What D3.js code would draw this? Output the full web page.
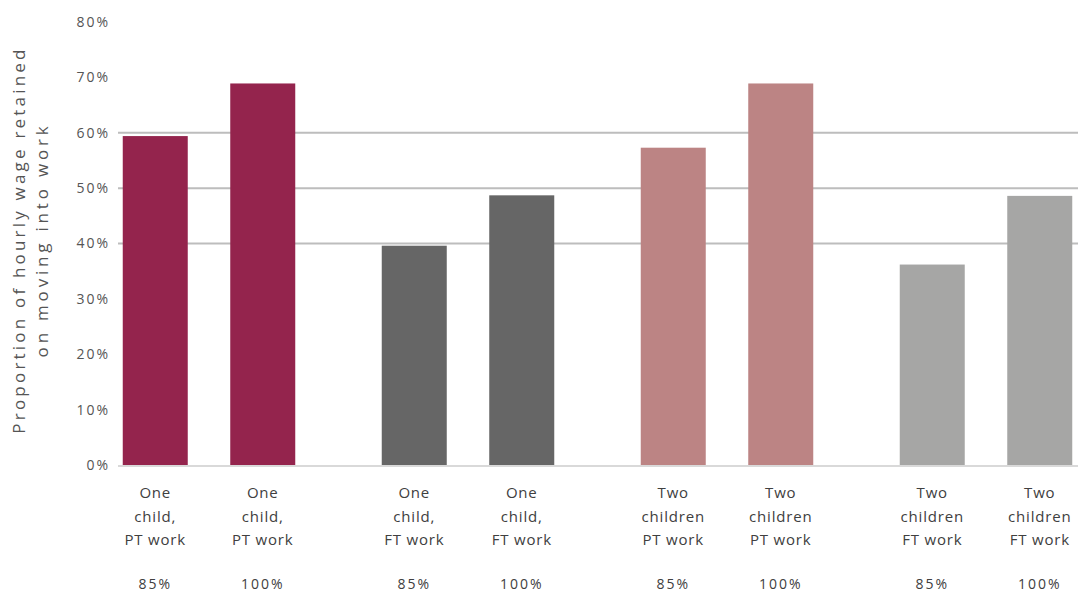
<!DOCTYPE html>
<html><head><meta charset="utf-8">
<script src="https://cdn.jsdelivr.net/npm/d3@7"></script>
<style>body{margin:0;background:#fff;}svg{display:block;font-family:"Open Sans",sans-serif;}</style>
</head><body><svg width="1090" height="596"></svg>
<script>
const groups = ["One child, PT work", "One child, FT work", "Two children PT work", "Two children FT work"];
const groupLines = [["One","child,","PT work"],["One","child,","FT work"],["Two","children","PT work"],["Two","children","FT work"]];
const levels = ["85%", "100%"];
const values = [[59.4, 68.9], [39.6, 48.7], [57.3, 68.9], [36.2, 48.6]];
const groupColors = ["#94244d", "#666666", "#bc8484", "#a6a6a5"];
const yTicks = [0,10,20,30,40,50,60,70,80];
const gridValues = [40,50,60];

const svg = d3.select("svg");
const y = d3.scaleLinear().domain([0,80]).range([465, 22]);
const gx = d3.scaleBand().domain(d3.range(groups.length)).range([79.5, 79.5 + 4*259]);
const ix = d3.scalePoint().domain(d3.range(levels.length)).range([-53.75, 53.75]);
const barW = 65;
const gridX0 = 118, gridX1 = 1078;

// grid
svg.append("g").selectAll("line").data(gridValues).join("line")
  .attr("x1", gridX0).attr("x2", gridX1)
  .attr("y1", d=>y(d)).attr("y2", d=>y(d))
  .attr("stroke", "#bdbdbd").attr("stroke-width", 2);

// bars
const data = [];
values.forEach((arr,g)=>arr.forEach((v,i)=>data.push({g,i,v})));
svg.append("g").selectAll("rect").data(data).join("rect")
  .attr("x", d=>gx(d.g)+gx.bandwidth()/2+ix(d.i)-barW/2)
  .attr("width", barW)
  .attr("y", d=>y(d.v)).attr("height", d=>y(0)-y(d.v))
  .attr("fill", d=>groupColors[d.g]);

// baseline
svg.append("line").attr("x1", gridX0).attr("x2", gridX1).attr("y1", y(0)+1).attr("y2", y(0)+1)
  .attr("stroke", "#d9d9d9").attr("stroke-width", 2);

// y axis
const yAxis = d3.axisLeft(y).tickValues(yTicks).tickFormat(d=>d+"%").tickSize(0).tickPadding(0);
const ya = svg.append("g").attr("transform","translate(110,0)").call(yAxis);
ya.select(".domain").remove();
ya.selectAll("text").attr("font-size", 14).attr("letter-spacing", 2).attr("fill", "#555").attr("font-family", "Open Sans, sans-serif");

// y title
const yt = svg.append("text").attr("transform","translate(25,240) rotate(-90)")
  .attr("text-anchor","middle").attr("fill","#555").attr("font-size",17).attr("letter-spacing",3.2);
yt.append("tspan").attr("x",0).attr("dy",0).text("Proportion of hourly wage retained");
yt.append("tspan").attr("x",0).attr("dy",23).attr("letter-spacing",3.8).text("on moving into work");

// category labels
const lab = svg.append("g");
data.forEach(d=>{
  const cx = gx(d.g)+gx.bandwidth()/2+ix(d.i);
  const t = lab.append("text").attr("text-anchor","middle").attr("fill","#404040").attr("font-size",15).attr("letter-spacing",0.8);
  groupLines[d.g].forEach((ln,k)=>t.append("tspan").attr("x",cx).attr("y",498+k*23.5).text(ln));
  lab.append("text").attr("x",cx).attr("y",589).attr("text-anchor","middle").attr("fill","#404040").attr("font-size",14).attr("letter-spacing",2).text(levels[d.i]);
});
</script></body></html>
